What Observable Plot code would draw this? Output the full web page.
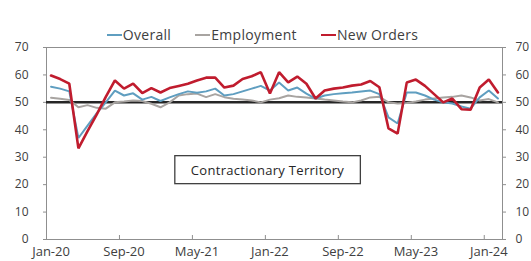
<!DOCTYPE html>
<html><head><meta charset="utf-8">
<script src="https://cdn.jsdelivr.net/npm/d3@7"></script>
<script src="https://cdn.jsdelivr.net/npm/@observablehq/plot@0.6"></script>
<style>
html,body{margin:0;padding:0;background:#fff;}
body{width:531px;height:261px;overflow:hidden;font-family:"Open Sans",sans-serif;}
#legend{height:42px;box-sizing:border-box;padding-top:27px;display:flex;justify-content:center;gap:24px;font-size:14px;letter-spacing:0.3px;line-height:15px;color:#404040;padding-right:6px;}
#legend .item{display:flex;align-items:center;}
#legend .sw{display:inline-block;width:15px;height:0;border-top:2px solid;margin-right:1px;}
#chart{margin-top:-12px;}
#chart svg{overflow:visible;background:transparent;}
</style></head><body>
<div id="legend"></div>
<div id="chart"></div>
<script>
// Months Jan-20 .. Feb-24
const months = d3.utcMonth.range(new Date(Date.UTC(2020,0,1)), new Date(Date.UTC(2024,2,1))).map(d3.utcFormat("%b-%y"));
const overall = [55.7,55.0,54.0,37.0,41.5,46.0,50.0,54.3,52.5,53.3,51.0,52.0,50.5,51.8,53.0,54.0,53.5,54.0,55.0,52.5,53.0,54.0,55.0,56.0,54.3,57.2,54.3,55.4,53.2,51.4,52.5,53.0,53.3,53.6,54.0,54.3,53.0,44.5,42.3,53.6,53.6,52.5,51.0,50.0,49.6,48.5,47.7,51.8,54.3,51.4];
const employment = [51.7,51.3,50.9,48.2,49.0,48.0,47.7,50.0,50.3,50.7,50.5,49.5,48.2,50.0,52.5,53.0,53.2,51.9,53.0,51.9,51.3,51.0,50.7,50.0,51.0,51.5,52.5,52.0,51.8,51.4,51.0,50.7,50.3,50.0,50.7,51.8,52.0,50.0,49.6,49.8,50.3,51.0,51.4,51.8,52.0,52.5,51.8,50.7,51.2,50.0];
const newOrders = [59.8,58.5,56.8,33.2,39.5,45.5,52.0,58.0,55.0,56.8,53.4,55.2,53.6,55.2,56.0,56.8,58.0,59.0,59.0,55.4,56.1,58.5,59.5,61.0,53.2,61.0,57.3,59.4,56.8,51.4,54.3,55.0,55.4,56.1,56.5,57.8,55.5,40.5,38.6,57.2,58.3,56.0,53.0,50.0,51.4,47.5,47.3,55.4,58.3,53.6];
const seriesNames = ["Overall","Employment","New Orders"];
const seriesColors = ["#5f9ec0","#a8a4a1","#c01c2e"];
const seriesWidths = [2,2,2.6];
const yTicks = [0,10,20,30,40,50,60,70];
const xTickLabels = ["Jan-20","Sep-20","May-21","Jan-22","Sep-22","May-23","Jan-24"];
const threshold = 50;
const annotation = "Contractionary Territory";

// legend
const leg = document.getElementById("legend");
seriesNames.forEach((n,k)=>{
  const it = document.createElement("span"); it.className="item";
  const sw = document.createElement("span"); sw.className="sw"; sw.style.borderTopColor = seriesColors[k];
  it.appendChild(sw); it.appendChild(document.createTextNode(n)); leg.appendChild(it);
});

const idx = months.map((m,i)=>i);
const xTickIdx = xTickLabels.map(l => months.indexOf(l));
const boundaries = xTickIdx.map(i => i - 0.5);
const seriesData = [overall, employment, newOrders];
const order = [1,0,2];

const axisStyle = {fontSize: 12, fill:"#404040"};
const chart = Plot.plot({
  width: 531, height: 231,
  marginTop: 17, marginBottom: 22, marginLeft: 46, marginRight: 29,
  style: {fontFamily:"Open Sans, sans-serif", fontSize:"12px", color:"#404040", background:"transparent", overflow:"visible"},
  x: {type:"linear", domain:[-0.5, months.length - 0.5]},
  y: {domain:[0,70]},
  marks: [
    Plot.frame({stroke:"#8f8f8f", strokeWidth:1}),
    Plot.ruleY([threshold], {stroke:"#262626", strokeWidth:2.5}),
    ...order.map(k => Plot.lineY(seriesData[k], {x: idx, stroke: seriesColors[k], strokeWidth: seriesWidths[k], strokeLinejoin:"miter"})),
    Plot.axisY({anchor:"left", ticks: yTicks, tickSize:3, tickPadding:15, stroke:"#8f8f8f", ...axisStyle, label:null}),
    Plot.axisY({anchor:"right", ticks: yTicks, tickSize:3, tickPadding:10, stroke:"#8f8f8f", ...axisStyle, label:null}),
    Plot.axisX({ticks: boundaries, tickFormat: () => "", tickSize: -4, stroke:"#8f8f8f", label:null}),
    Plot.axisX({ticks: xTickIdx, tickFormat: i => months[i], tickSize:0, tickPadding:7, fontSize:13, fill:"#404040", label:null, style:{letterSpacing:"0.8px"}}),
    Plot.text([annotation], {frameAnchor:"middle", dx:-7, dy:27, fontSize:13, fill:"#262626"})
  ]
});
document.getElementById("chart").appendChild(chart);

// box around annotation, sized from its text
const t = Array.from(chart.querySelectorAll("text")).find(e => e.textContent === annotation);
if (t) {
  t.style.letterSpacing = "0.3px";
  const b = t.getBBox();
  const padX = 16, padY = 5;
  const r = document.createElementNS("http://www.w3.org/2000/svg","rect");
  r.setAttribute("x", b.x - padX); r.setAttribute("y", b.y - padY);
  r.setAttribute("width", b.width + 2*padX); r.setAttribute("height", b.height + 2*padY);
  r.setAttribute("fill","#fff"); r.setAttribute("stroke","#404040"); r.setAttribute("stroke-width","1.3");
  const tr = t.getAttribute("transform");
  if (tr) r.setAttribute("transform", tr);
  t.parentNode.insertBefore(r, t);
}
</script>
</body></html>
